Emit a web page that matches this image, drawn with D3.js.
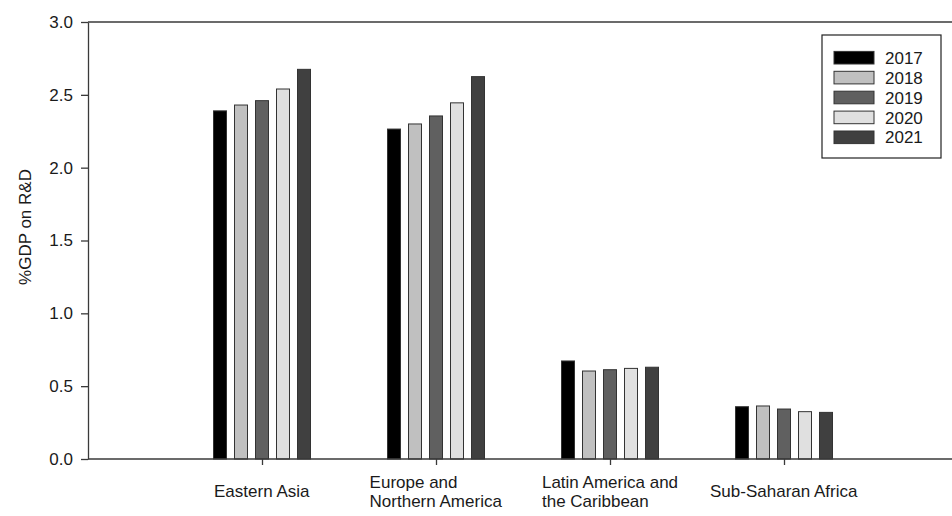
<!DOCTYPE html>
<html>
<head>
<meta charset="utf-8">
<script src="https://d3js.org/d3.v7.min.js"></script>
<style>
  body { margin: 0; background: #fff; }
  svg { font-family: "Liberation Sans", Arial, sans-serif; }
  .axis path, .axis line { stroke: #3a3a3a; stroke-width: 1.3; }
  .axis text { fill: #1a1a1a; font-size: 17px; }
</style>
</head>
<body>
<div id="chart"></div>
<script>
// data
const regions = [
  ["Eastern Asia"],
  ["Europe and", "Northern America"],
  ["Latin America and", "the Caribbean"],
  ["Sub-Saharan Africa"]
]
const years = ["2017", "2018", "2019", "2020", "2021"]
const v2017 = [2.39, 2.265, 0.673, 0.359]
const v2018 = [2.43, 2.30, 0.604, 0.364]
const v2019 = [2.46, 2.355, 0.613, 0.343]
const v2020 = [2.54, 2.445, 0.622, 0.325]
const v2021 = [2.675, 2.625, 0.63, 0.32]
const series = [v2017, v2018, v2019, v2020, v2021]
const fills = ["#000000", "#c0c0c0", "#606060", "#e0e0e0", "#404040"]
const yTicks = [0, 0.5, 1, 1.5, 2, 2.5, 3]

const W = 952, H = 516
const svg = d3.select("#chart").append("svg").attr("width", W).attr("height", H)

const x = d3.scaleLinear().domain([0, 5]).range([88, 958])
const y = d3.scaleLinear().domain([0, 3]).range([459, 22])
const inner = d3.scaleBand().domain(years).range([-52.5, 52.5])
  .paddingInner(8/21).paddingOuter(4/21)

// top frame line
svg.append("line")
  .attr("x1", x(0)).attr("x2", W + 10)
  .attr("y1", y(3)).attr("y2", y(3))
  .attr("stroke", "#3a3a3a").attr("stroke-width", 1.3)

// bars
const rows = regions.map((r, i) => years.map((yr, j) => ({ i: i + 1, yr: yr, v: series[j][i], c: fills[j] })))
svg.append("g").selectAll("g").data(rows).join("g")
  .selectAll("rect").data(d => d).join("rect")
    .attr("x", d => x(d.i) + inner(d.yr))
    .attr("width", inner.bandwidth())
    .attr("y", d => y(d.v))
    .attr("height", d => y(0) - y(d.v))
    .attr("fill", d => d.c)
    .attr("stroke", "#333")
    .attr("stroke-width", 1)

// y axis
const yAxis = svg.append("g").attr("class", "axis")
  .attr("transform", "translate(" + x(0) + ",0)")
  .call(d3.axisLeft(y).tickValues(yTicks).tickFormat(d3.format(".1f"))
    .tickSize(7).tickPadding(8).tickSizeOuter(0))

// x axis
const xAxis = svg.append("g").attr("class", "axis")
  .attr("transform", "translate(0," + y(0) + ")")
  .call(d3.axisBottom(x).tickValues([1, 2, 3, 4]).tickFormat("")
    .tickSize(6).tickSizeOuter(0))
xAxis.select(".domain").attr("d", "M" + x(0) + ",0H" + (W + 10))

// category labels, lines left aligned, block centred on the tick
const lab = svg.append("g").attr("class", "axis")
regions.forEach((lines, i) => {
  const t = lab.append("text")
    .attr("y", lines.length > 1 ? 488 : 497)
    .style("font-size", "17px").attr("fill", "#1a1a1a")
  lines.forEach((s, k) => {
    t.append("tspan").attr("x", 0).attr("dy", k ? 18.5 : 0).text(s)
  })
  const w = t.node().getBBox().width
  t.attr("transform", "translate(" + (x(i + 1) - w / 2) + ",0)")
})

// y title
svg.append("text")
  .attr("transform", "translate(31,227) rotate(-90)")
  .attr("text-anchor", "middle")
  .style("font-size", "17px").attr("fill", "#1a1a1a")
  .text("%GDP on R&D")

// legend
const leg = svg.append("g")
leg.append("rect")
  .attr("x", 822).attr("y", 35).attr("width", 119).attr("height", 123)
  .attr("fill", "#fff").attr("stroke", "#222").attr("stroke-width", 1.2)
const item = leg.selectAll("g.item").data(years).join("g")
  .attr("class", "item")
  .attr("transform", (d, i) => "translate(834," + (57.7 + 19.9 * i) + ")")
item.append("rect")
  .attr("x", 0).attr("y", -6.3).attr("width", 40).attr("height", 12.6)
  .attr("fill", (d, i) => fills[i]).attr("stroke", "#333").attr("stroke-width", 1)
item.append("text")
  .attr("x", 51).attr("dy", "0.36em")
  .style("font-size", "17px").attr("fill", "#1a1a1a")
  .text(d => d)
</script>
</body>
</html>
